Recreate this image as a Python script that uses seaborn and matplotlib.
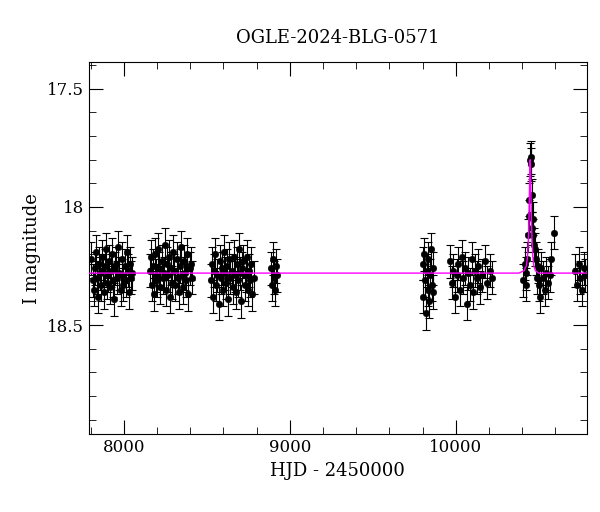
import numpy as np
import pandas as pd
import matplotlib
matplotlib.use("Agg")
import matplotlib.pyplot as plt
import seaborn as sns
from matplotlib.ticker import MultipleLocator

# observations, one list pair per season (HJD-2450000, I mag)
t1 = [7805,7812,7818,7824,7830,7836,7842,7848,7855,7861,7867,7873,7880,7886,7892,7898,7905,7911,7917,7923,
      7930,7936,7942,7948,7955,7961,7967,7973,7980,7986,7992,7998,8005,8011,8017,8023,8030,8036,8042,8048]
m1 = [18.22,18.31,18.35,18.26,18.19,18.30,18.38,18.24,18.28,18.33,18.21,18.27,18.36,18.25,18.18,18.32,18.29,18.23,18.34,18.27,
      18.20,18.31,18.39,18.26,18.24,18.30,18.17,18.28,18.35,18.22,18.29,18.33,18.25,18.31,18.19,18.27,18.36,18.24,18.30,18.28]
t2 = [8155,8162,8168,8175,8181,8188,8194,8201,8207,8214,8220,8227,8233,8240,8246,8253,8259,8266,8272,8279,
      8285,8292,8298,8305,8311,8318,8324,8331,8337,8344,8350,8357,8363,8370,8376,8383,8389,8396,8402,8410]
m2 = [18.27,18.21,18.33,18.25,18.37,18.20,18.29,18.31,18.18,18.26,18.34,18.23,18.30,18.28,18.16,18.35,18.24,18.29,18.21,18.38,
      18.26,18.32,18.19,18.27,18.33,18.22,18.30,18.36,18.25,18.17,18.29,18.34,18.23,18.28,18.31,18.20,18.37,18.26,18.24,18.30]
t3 = [8525,8532,8538,8545,8551,8558,8564,8571,8577,8584,8590,8597,8603,8610,8616,8623,8629,8636,8642,8649,
      8655,8662,8668,8675,8681,8688,8694,8701,8707,8714,8720,8727,8733,8740,8746,8753,8759,8766,8772,8785]
m3 = [18.31,18.24,18.38,18.27,18.20,18.33,18.29,18.41,18.23,18.30,18.26,18.35,18.19,18.28,18.32,18.25,18.39,18.22,18.30,18.27,
      18.34,18.21,18.29,18.36,18.24,18.31,18.18,18.28,18.40,18.26,18.23,18.33,18.29,18.21,18.35,18.27,18.31,18.24,18.37,18.30]
t4 = [8885,8892,8898,8904,8910,8916,8922]
m4 = [18.26,18.33,18.22,18.30,18.35,18.25,18.29]
t5 = [9800,9805,9810,9815,9820,9825,9830,9835,9840,9845,9850,9855,9860,9865]
m5 = [18.24,18.38,18.20,18.31,18.45,18.27,18.35,18.22,18.40,18.29,18.18,18.33,18.26,18.36]
t6 = [9965,9975,9985,9995,10005,10015,10025,10035,10045,10055,10065,10075,10085,10095,10105,10115,10125,10135,10145,10160,10175,10190,10205,10215]
m6 = [18.23,18.32,18.27,18.38,18.29,18.24,18.35,18.21,18.30,18.26,18.41,18.28,18.33,18.22,18.36,18.27,18.30,18.25,18.34,18.29,18.23,18.32,18.27,18.30]
t7 = [10405,10415,10420,10425,10430,10435,10440,10443,10447,10450,10453,10457,10460,10463,10467,10472,10478,10483,10490,10495,
      10500,10508,10515,10525,10535,10545,10555,10565,10575,10590]
m7 = [18.31,18.24,18.28,18.33,18.22,18.12,18.04,17.97,17.80,17.79,17.82,17.95,18.09,18.05,18.12,18.16,18.18,18.22,18.30,18.25,
      18.33,18.38,18.26,18.30,18.35,18.28,18.32,18.29,18.22,18.11]
t8 = [10720,10730,10740,10750,10760,10770,10780]
m8 = [18.27,18.33,18.24,18.30,18.35,18.26,18.29]
err = 0.07

# model curve
model_t = [7789,10380,10410,10425,10432,10437,10441,10444,10446,10448,10450,10452,10455,10459,10464,10470,10480,10500,10789]
model_m = [18.28,18.28,18.27,18.25,18.21,18.14,18.04,17.93,17.84,17.80,17.84,17.93,18.04,18.14,18.21,18.25,18.27,18.28,18.28]

df = pd.DataFrame({"t": t1 + t2 + t3 + t4 + t5 + t6 + t7 + t8,
                   "mag": m1 + m2 + m3 + m4 + m5 + m6 + m7 + m8})

plt.rcParams["font.family"] = "DejaVu Serif"
fig, ax = plt.subplots(figsize=(6, 5.12), dpi=100)
fig.subplots_adjust(left=0.148, right=0.978, top=0.879, bottom=0.152)

ax.errorbar(df["t"], df["mag"], yerr=err, fmt="none", ecolor="black", elinewidth=0.8, capsize=3, capthick=0.8)
sns.scatterplot(data=df, x="t", y="mag", color="black", s=22, edgecolor="black", ax=ax, zorder=3)
sns.lineplot(x=model_t, y=model_m, color="#ff00ff", lw=1.0, ax=ax, zorder=4, sort=True)

ax.set_xlim(7789, 10789)
ax.set_ylim(18.962, 17.386)
ax.xaxis.set_major_locator(MultipleLocator(1000))
ax.xaxis.set_minor_locator(MultipleLocator(200))
ax.yaxis.set_major_locator(MultipleLocator(0.5))
ax.yaxis.set_minor_locator(MultipleLocator(0.1))
ax.set_yticks([17.5, 18, 18.5])
ax.set_yticklabels(["17.5", "18", "18.5"])
ax.tick_params(which="both", direction="in", top=True, right=True, labelsize=12)
ax.tick_params(which="major", length=10)
ax.tick_params(which="minor", length=5)
ax.set_xlabel("HJD - 2450000", fontsize=13)
ax.set_ylabel("I magnitude", fontsize=13)
ax.set_title("OGLE-2024-BLG-0571", fontsize=13, pad=14)

fig.savefig("out.png")
